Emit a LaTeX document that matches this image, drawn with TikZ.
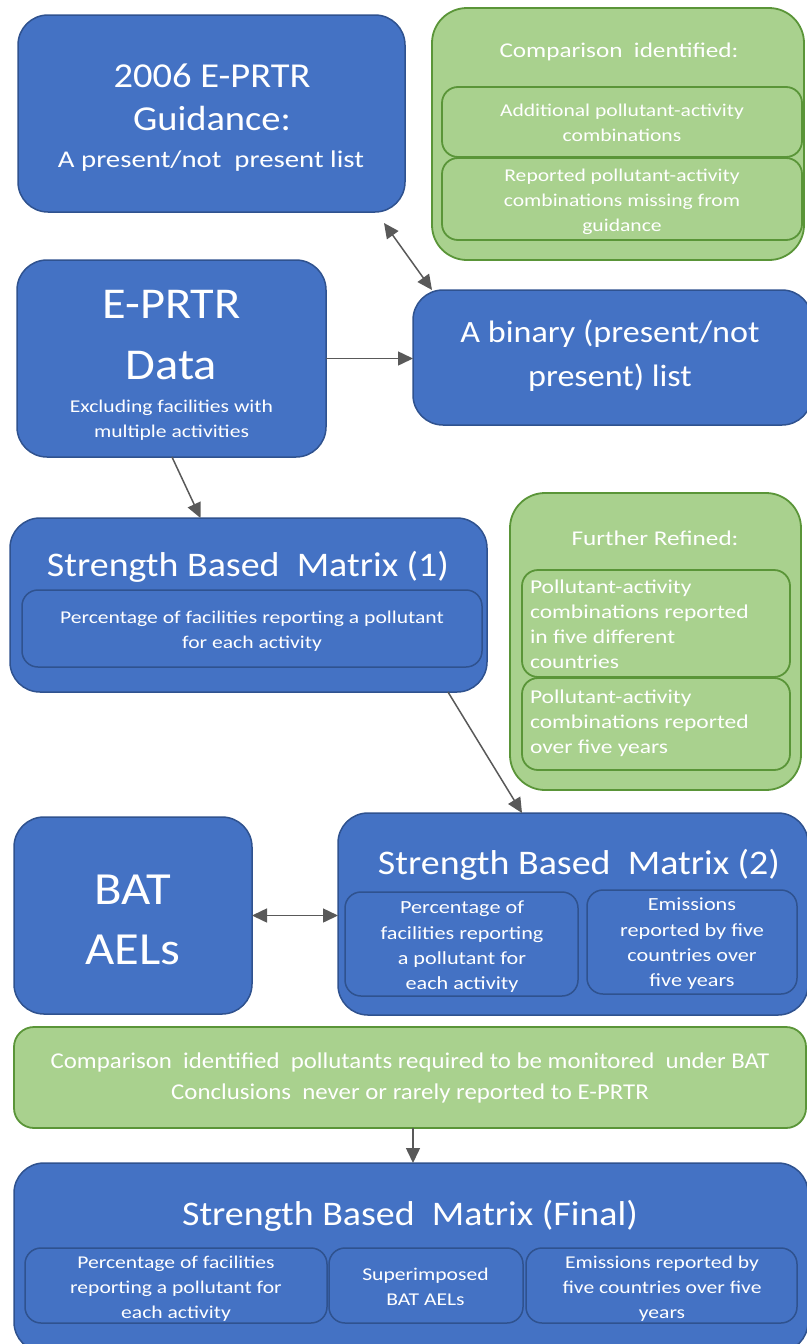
\documentclass[tikz,border=0pt]{standalone}
\usepackage{fontspec}
\setmainfont[FakeStretch=1.1]{Carlito}
\newfontfamily\smf[FakeStretch=1.2]{Carlito}
\usetikzlibrary{arrows.meta,calc}
\definecolor{bfill}{HTML}{4472C4}
\definecolor{bdark}{HTML}{2F528F}
\definecolor{gfill}{HTML}{A9D18E}
\definecolor{gdark}{HTML}{5A9538}
\definecolor{agray}{HTML}{595959}
\newcommand\fs[2]{\fontsize{#1}{#2}\selectfont}
\newcommand\rbox[6]{\node[#2, minimum width={(#5)-(#3)}, minimum height={(#6)-(#4)}] (#1) at ({((#3)+(#5))/2},{((#4)+(#6))/2}) {};}
\tikzset{
  bluebox/.style={draw=bdark, fill=bfill, line width=1.5pt, rounded corners=30pt, inner sep=0pt, outer sep=0pt},
  greenbox/.style={draw=gdark, fill=gfill, line width=1.8pt, rounded corners=35pt, inner sep=0pt, outer sep=0pt},
  bluein/.style={draw=bdark, fill=bfill, line width=1.5pt, rounded corners=16pt, inner sep=0pt, outer sep=0pt},
  greenin/.style={draw=gdark, fill=gfill, line width=1.8pt, rounded corners=16pt, inner sep=0pt, outer sep=0pt},
  txt/.style={text=white, inner sep=0pt, outer sep=0pt, align=center},
  arr/.style={draw=agray, line width=1.5pt, -{Triangle[length=15pt,width=14pt]}},
  dblarr/.style={draw=agray, line width=1.5pt, {Triangle[length=15pt,width=14pt]}-{Triangle[length=15pt,width=14pt]}},
}
\begin{document}
\begin{tikzpicture}[x=1pt,y=-1pt]
\useasboundingbox (0,0) rectangle (806,1344);
% boxes
\rbox{A}{bluebox}{18}{15}{405}{212}
\rbox{G1}{greenbox}{432}{8}{804}{260}
\rbox{G1a}{greenin}{442}{87}{802}{157}
\rbox{G1b}{greenin}{442}{158}{802}{240}
\rbox{B}{bluebox}{17}{260}{326}{457}
\rbox{C}{bluebox}{413}{290}{812}{425}
\rbox{D}{bluebox}{10}{518}{487}{692}
\rbox{D1}{bluein}{22}{590}{482}{667}
\rbox{G2}{greenbox}{510}{493}{801}{790}
\rbox{G2a}{greenin}{522}{570}{790}{677}
\rbox{G2b}{greenin}{522}{678}{790}{770}
\rbox{E}{bluebox}{14}{817}{252}{1014}
\rbox{F}{bluebox}{338}{813}{808}{1015}
\rbox{F1}{bluein}{345}{892}{578}{996}
\rbox{F2}{bluein}{587}{890}{797}{994}
\rbox{H}{greenbox,rounded corners=20pt}{14}{1027}{806}{1128}
\rbox{I}{bluebox}{14}{1163}{808}{1352}
\rbox{I1}{bluein}{25}{1248}{327}{1323}
\rbox{I2}{bluein}{329}{1248}{523}{1323}
\rbox{I3}{bluein}{526}{1248}{797}{1323}
% texts
\node[txt, font=\fs{35}{43}, anchor=north] (tA) at (212,57) {\strut 2006 E-PRTR\\Guidance:};
\node[txt, font=\smf\fs{24}{26}, anchor=base] (tA2) at (211,167) {A present/not\ \ present list};
\node[txt, font=\smf\fs{21}{25}, anchor=base] (tG1) at (619,57) {Comparison\ \ identified:};
\node[txt, font=\smf\fs{18}{25}, anchor=north] (tG1a) at (622,98.5) {\strut Additional pollutant-activity\\combinations};
\node[txt, font=\smf\fs{18}{25}, anchor=north] (tG1b) at (622,163.5) {\strut Reported pollutant-activity\\combinations missing from\\guidance};
\node[txt, font=\fs{44}{61}, anchor=north] (tB) at (171.5,276) {\strut E-PRTR\\Data};
\node[txt, font=\smf\fs{18}{25}, anchor=north] (tB2) at (171.5,395) {\strut Excluding facilities with\\multiple activities};
\node[txt, font=\fs{31}{44}, anchor=north] (tC) at (610,312) {\strut A binary (present/not\\present) list};
\node[txt, font=\fs{34.5}{40}, anchor=base] (tD) at (248,576) {Strength Based\ \ Matrix (1)};
\node[txt, font=\smf\fs{18}{25}, anchor=north] (tD1) at (252,605.5) {\strut Percentage of facilities reporting a pollutant\\for each activity};
\node[txt, font=\smf\fs{21}{25}, anchor=base] (tG2) at (655,545) {Further Refined:};
\node[txt, font=\smf\fs{19.6}{25}, anchor=north west, align=left] (tG2a) at (530,575.5) {\strut Pollutant-activity\\combinations reported\\in five different\\countries};
\node[txt, font=\smf\fs{19.6}{25}, anchor=north west, align=left] (tG2b) at (530,685.5) {\strut Pollutant-activity\\combinations reported\\over five years};
\node[txt, font=\fs{46}{60}, anchor=north] (tE) at (133,862) {\strut BAT\\AELs};
\node[txt, font=\fs{34.5}{40}, anchor=base] (tF) at (579,874) {Strength Based\ \ Matrix (2)};
\node[txt, font=\smf\fs{18.5}{25.3}, anchor=north] (tF1) at (462,896) {\strut Percentage of\\facilities reporting\\a pollutant for\\each activity};
\node[txt, font=\smf\fs{18.5}{25.3}, anchor=north] (tF2) at (692,893) {\strut Emissions\\reported by five\\countries over\\five years};
\node[txt, font=\fs{22.6}{31}, anchor=north] (tH) at (410,1046.3) {\strut Comparison\ \ identified\ \ pollutants required to be monitored\ \ under BAT\\Conclusions\ \ never or rarely reported to E-PRTR};
\node[txt, font=\fs{34.5}{40}, anchor=base] (tI) at (410,1225) {Strength Based\ \ Matrix (Final)};
\node[txt, font=\smf\fs{18}{25}, anchor=north] (tI1) at (176,1250.5) {\strut Percentage of facilities\\reporting a pollutant for\\each activity};
\node[txt, font=\smf\fs{18}{25}, anchor=north] (tI2) at (425.5,1262.5) {\strut Superimposed\\BAT AELs};
\node[txt, font=\smf\fs{18}{25}, anchor=north] (tI3) at (662,1250.5) {\strut Emissions reported by\\five countries over five\\years};
% connectors
\draw[dblarr] ([xshift=-21pt,yshift=-11pt]A.south east) -- ([xshift=19pt]C.north west);
\draw[arr] (B.east) -- (B.east -| C.west);
\draw[arr] ([xshift=0.5pt]B.south) -- ([xshift=-48pt]D.north);
\draw[arr] ([xshift=-39pt]D.south east) -- ([xshift=184pt]F.north west);
\draw[dblarr] (E.east) -- (E.east -| F.west);
\draw[arr] ([xshift=3pt]H.south) -- ([xshift=3pt]H.south |- I.north);
\end{tikzpicture}
\end{document}
